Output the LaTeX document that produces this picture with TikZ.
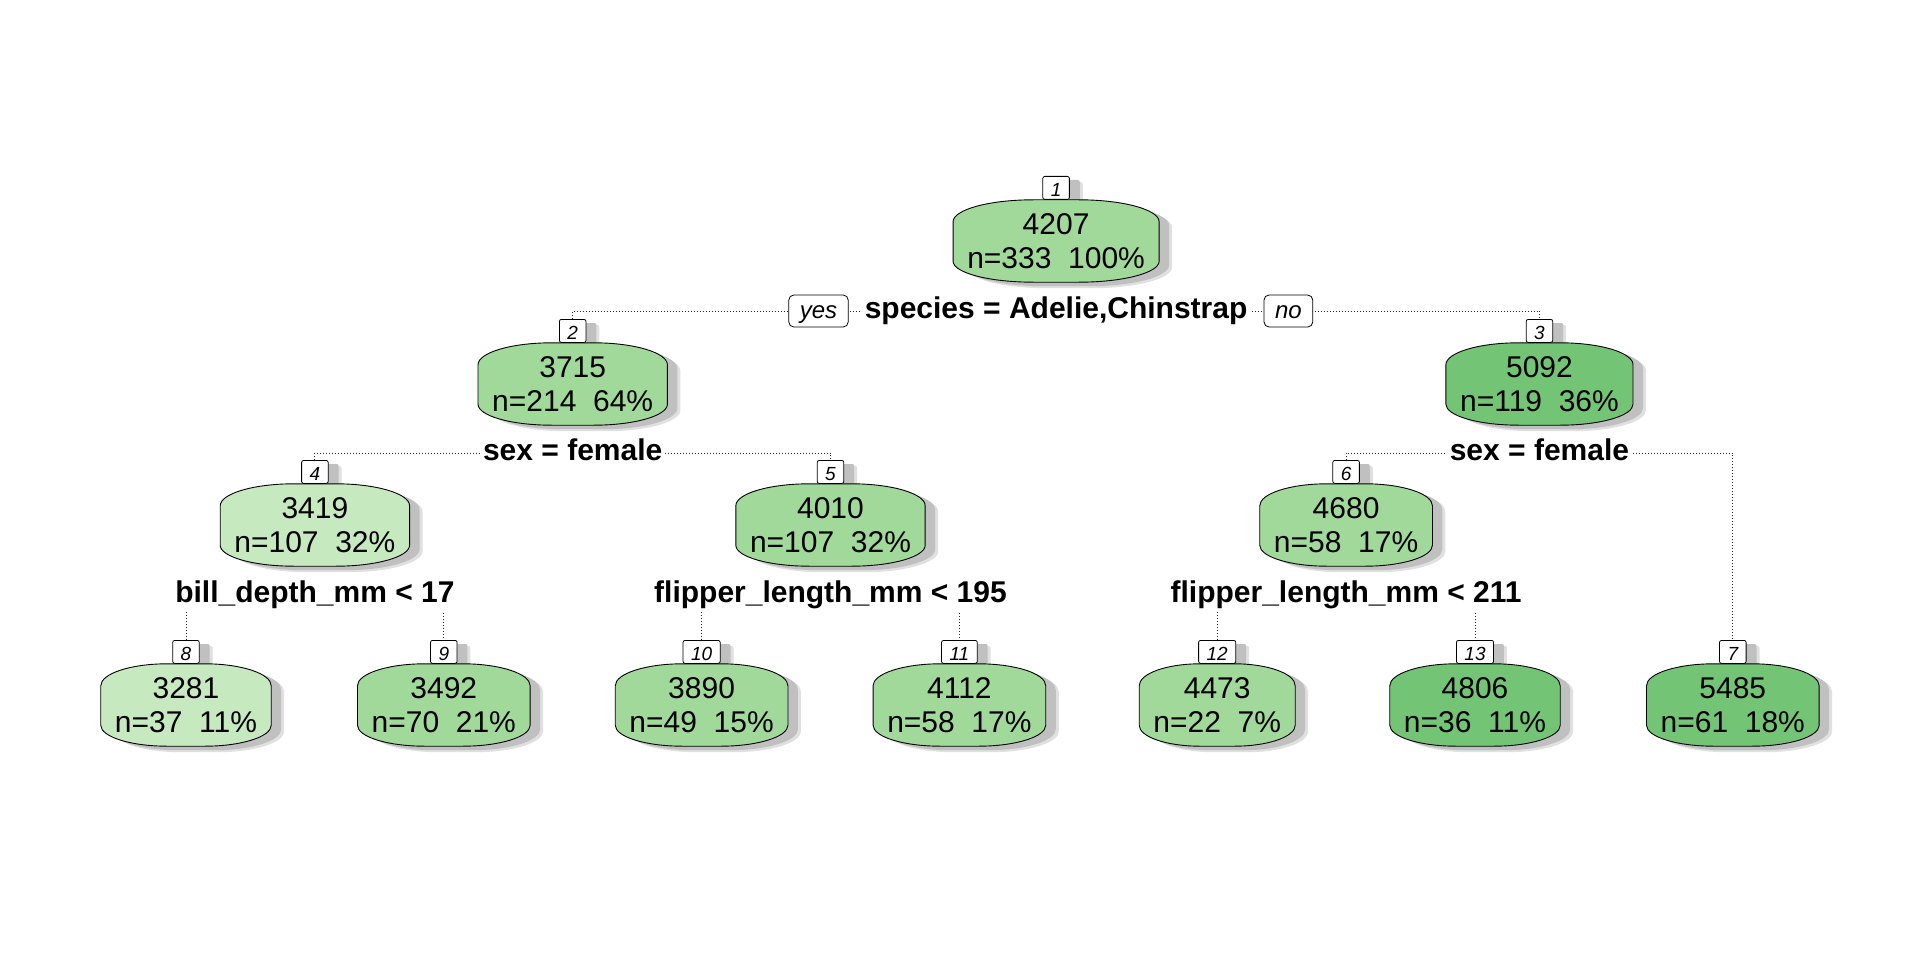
\documentclass[tikz,border=0pt]{standalone}
\usepackage{fontspec}
\setmainfont{Liberation Sans}
\usetikzlibrary{calc}
\pgfdeclarelayer{background}
\pgfsetlayers{background,main}
\definecolor{gl}{HTML}{C7E9C0}
\definecolor{gm}{HTML}{A1D99B}
\definecolor{gd}{HTML}{74C476}
\definecolor{shd}{RGB}{192,192,192}
\definecolor{shdl}{RGB}{224,224,224}
\newcommand\rpshape[4]{%
 \path[#2] let \p1=(#1.south west), \p2=(#1.north east), \n1={0.39*(\x2-\x1)} in
 ({\x1+#3},{\y1+21pt+(#4)}) -- ({\x1+#3},{\y2-22pt+(#4)})
 arc[start angle=180,end angle=90,x radius={\n1*1pt},y radius=22pt]
 -- ({\x2-\n1*1pt+#3},{\y2+(#4)})
 arc[start angle=90,end angle=0,x radius={\n1*1pt},y radius=22pt]
 -- ({\x2+#3},{\y1+21pt+(#4)})
 arc[start angle=0,end angle=-90,x radius={\n1*1pt},y radius=21pt]
 -- ({\x1+\n1*1pt+#3},{\y1+(#4)})
 arc[start angle=270,end angle=180,x radius={\n1*1pt},y radius=21pt]
 -- cycle;}
\tikzset{
 enode/.style={inner xsep=14pt, inner ysep=0pt, minimum height=82pt, align=center,
   font=\fontsize{30}{34}\selectfont},
 numbox/.style={draw, fill=white, rounded corners=2pt, inner xsep=8pt, inner ysep=0pt,
   minimum height=23pt, text height=16.5pt, text depth=0pt, anchor=south, line width=0.8pt,
   font=\fontsize{19}{21}\selectfont\itshape},
 splitlab/.style={fill=white, inner xsep=3pt, inner ysep=3pt, text height=22pt, text depth=6.5pt,
   font=\fontsize{30}{34}\selectfont\bfseries},
 yn/.style={draw, fill=white, rounded corners=5pt, inner xsep=11pt, inner ysep=0pt,
   minimum height=32pt, text height=19pt, text depth=5pt, line width=0.8pt,
   font=\fontsize{24}{26}\selectfont\itshape},
 conn/.style={draw=black!85, line width=1pt, dash pattern=on 1pt off 2pt}
}
\begin{document}
\begin{tikzpicture}[x=1pt,y=-1pt]
\useasboundingbox (0,0) rectangle (1920,960);
% value nodes
\node[enode] (n1) at (1056.1,241) {4207\\n=333~~100\%};
\node[enode] (n2) at (572.7,384) {3715\\n=214~~64\%};
\node[enode] (n3) at (1539.45,384) {5092\\n=119~~36\%};
\node[enode] (n4) at (314.9,525) {3419\\n=107~~32\%};
\node[enode] (n5) at (830.5,525) {4010\\n=107~~32\%};
\node[enode] (n6) at (1346.1,525) {4680\\n=58~~17\%};
\node[enode] (n8) at (186,705) {3281\\n=37~~11\%};
\node[enode] (n9) at (443.8,705) {3492\\n=70~~21\%};
\node[enode] (n10) at (701.6,705) {3890\\n=49~~15\%};
\node[enode] (n11) at (959.4,705) {4112\\n=58~~17\%};
\node[enode] (n12) at (1217.2,705) {4473\\n=22~~7\%};
\node[enode] (n13) at (1475,705) {4806\\n=36~~11\%};
\node[enode] (n7) at (1732.8,705) {5485\\n=61~~18\%};
% number boxes
\foreach \k in {1,2,3,4,5,6,7,8,9,10,11,12,13}
  {\node[numbox] (b\k) at (n\k.north) {\k};}
% split labels
\node[splitlab] (s1) at (1056.1,311) {species = Adelie,Chinstrap};
\node[splitlab] (s2) at (572.7,453) {sex = female};
\node[splitlab] (s3) at (1539.45,453) {sex = female};
\node[splitlab] (s4) at (314.9,595) {bill\_depth\_mm < 17};
\node[splitlab] (s5) at (830.5,595) {flipper\_length\_mm < 195};
\node[splitlab] (s6) at (1346.1,595) {flipper\_length\_mm < 211};
\node[yn, anchor=east] (yes) at ([xshift=-13pt]s1.west) {yes};
\node[yn, anchor=west] (no) at ([xshift=13pt]s1.east) {no};
\begin{pgfonlayer}{background}
\fill[white] (0,0) rectangle (1920,960);
\draw[conn] (b2.north) |- (s1.center) -| (b3.north);
\draw[conn] (b4.north) |- (s2.center) -| (b5.north);
\draw[conn] (b6.north) |- (s3.center) -| (b7.north);
\draw[conn] (b8.north) |- (s4.center) -| (b9.north);
\draw[conn] (b10.north) |- (s5.center) -| (b11.north);
\draw[conn] (b12.north) |- (s6.center) -| (b13.north);
\foreach \k in {1,2,3,4,5,6,7,8,9,10,11,12,13}{
  \fill[shdl, rounded corners=2pt] ([xshift=13pt,yshift=-6pt]b\k.south west) rectangle ([xshift=13pt,yshift=-6pt]b\k.north east);
  \fill[shd, rounded corners=2pt] ([xshift=10pt,yshift=-4pt]b\k.south west) rectangle ([xshift=10pt,yshift=-4pt]b\k.north east);
  \rpshape{n\k}{fill=shdl}{13pt}{-6pt}
  \rpshape{n\k}{fill=shd}{10pt}{-4pt}
}
\foreach \nn/\cc in {n1/gm,n2/gm,n3/gd,n4/gl,n5/gm,n6/gm,n7/gd,n8/gl,n9/gm,n10/gm,n11/gm,n12/gm,n13/gd}{
  \rpshape{\nn}{fill=\cc, draw=black, line width=0.9pt}{0pt}{0pt}
}
\end{pgfonlayer}
\end{tikzpicture}
\end{document}
